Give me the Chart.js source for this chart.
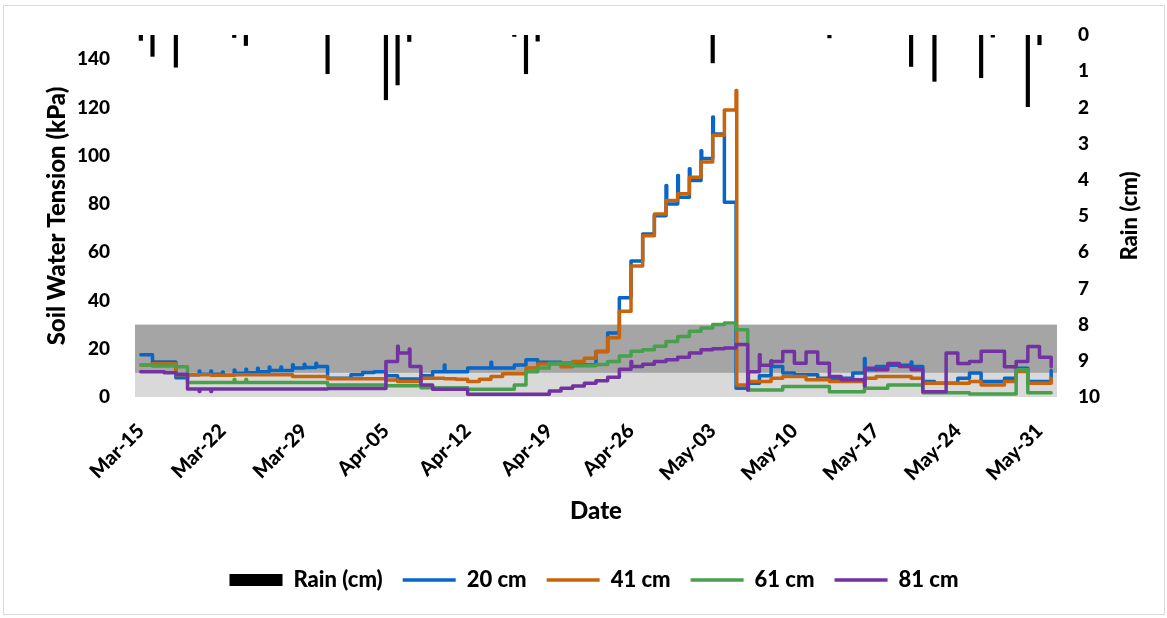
<!DOCTYPE html>
<html>
<head>
<meta charset="utf-8">
<title>Soil Water Tension and Rain</title>
<script src="https://cdn.jsdelivr.net/npm/chart.js@4.4.1/dist/chart.umd.min.js"></script>
<style>
  html, body { margin: 0; padding: 0; background: #ffffff; }
  canvas { display: block; }
</style>
</head>
<body>
<canvas id="chart" width="1167" height="618"></canvas>
<script>
// Date axis: day offsets counted from Mar-15
const tickDays = [0, 7, 14, 21, 28, 35, 42, 49, 56, 63, 70, 77];
const tickLabels = ['Mar-15', 'Mar-22', 'Mar-29', 'Apr-05', 'Apr-12', 'Apr-19',
                    'Apr-26', 'May-03', 'May-10', 'May-17', 'May-24', 'May-31'];

// Daily rainfall (cm)
const rainDays = [0, 1, 3, 8, 9, 16, 21, 22, 23, 32, 33, 34, 49, 59, 66, 68, 72, 73, 76, 77];
const rainCm   = [0.15, 0.59, 0.89, 0.07, 0.29, 1.07, 1.79, 1.38, 0.18, 0.04,
                  1.07, 0.17, 0.77, 0.08, 0.87, 1.28, 1.18, 0.06, 1.98, 0.27];

// Daily soil water tension (kPa), one reading per day from Mar-15
const tension20 = [17.5, 14.5, 14.5, 8.0, 9.2, 9.4, 9.4, 9.0, 9.8, 10.1,
                   10.5, 11.0, 11.0, 12.0, 12.2, 12.6, 7.8, 7.8, 9.2, 10.2,
                   10.5, 8.8, 7.5, 7.5, 8.8, 10.5, 10.5, 10.5, 12.0, 12.0,
                   12.0, 12.0, 13.3, 15.4, 14.4, 14.4, 14.0, 13.3, 13.3, 18.9,
                   26.5, 41.1, 56.4, 67.5, 75.1, 80.0, 82.8, 89.7, 98.8, 109.0,
                   80.7, 3.6, 5.7, 8.8, 12.6, 9.9, 9.2, 9.2, 7.8, 7.8,
                   7.8, 9.9, 11.3, 12.6, 13.2, 13.2, 12.6, 6.4, 5.7, 5.7,
                   7.8, 9.9, 6.4, 6.4, 7.8, 11.9, 6.4, 6.4, 11.0];

const tension41 = [13.3, 13.8, 13.8, 9.2, 9.2, 9.2, 9.0, 9.0, 9.2, 9.2,
                   9.2, 9.2, 9.2, 8.5, 8.5, 8.5, 7.6, 7.6, 7.6, 7.6,
                   7.6, 7.0, 6.4, 6.4, 7.8, 7.8, 7.6, 7.4, 6.4, 7.4,
                   8.5, 9.6, 9.6, 12.0, 13.7, 13.7, 12.5, 14.7, 16.1, 18.9,
                   24.6, 35.5, 54.3, 66.8, 75.8, 81.4, 84.2, 91.1, 97.4, 108.5,
                   118.9, 5.0, 6.4, 6.4, 7.8, 8.5, 8.5, 7.1, 7.1, 6.4,
                   6.4, 6.4, 7.8, 8.5, 8.5, 8.5, 7.8, 5.7, 5.7, 5.7,
                   5.7, 6.4, 5.0, 5.0, 6.4, 10.6, 5.7, 5.7, 7.8];

const tension61 = [13.3, 12.8, 12.8, 12.5, 6.0, 6.0, 6.0, 6.0, 6.0, 6.0,
                   6.0, 6.0, 6.0, 6.0, 6.0, 6.0, 5.0, 5.0, 5.0, 5.0,
                   5.0, 4.7, 4.7, 4.7, 3.8, 3.8, 3.8, 3.8, 3.2, 3.2,
                   3.2, 3.2, 5.0, 10.5, 12.0, 14.0, 14.0, 12.9, 13.0, 13.5,
                   14.7, 17.0, 19.0, 19.6, 21.0, 23.0, 25.1, 27.2, 28.6, 30.0,
                   30.7, 27.9, 2.9, 2.9, 2.9, 4.3, 4.3, 4.3, 4.3, 2.2,
                   2.2, 2.2, 3.6, 3.6, 5.0, 5.0, 5.0, 1.8, 1.8, 1.8,
                   1.8, 1.2, 1.2, 1.2, 1.2, 11.3, 1.8, 1.8, 1.8];

const tension81 = [10.5, 10.5, 10.1, 9.4, 3.3, 3.3, 3.3, 3.3, 3.3, 3.3,
                   3.3, 3.3, 3.3, 3.3, 3.3, 3.3, 3.5, 3.5, 3.5, 3.5,
                   3.5, 14.7, 18.2, 12.6, 5.0, 3.2, 3.2, 3.2, 1.1, 1.1,
                   1.1, 1.1, 1.1, 1.1, 1.1, 2.5, 3.6, 4.6, 5.7, 6.7,
                   8.2, 11.5, 12.6, 13.6, 14.7, 15.4, 16.5, 18.2, 19.6, 20.0,
                   20.3, 21.8, 10.5, 13.2, 14.7, 18.9, 14.0, 18.6, 14.0, 8.5,
                   7.1, 7.1, 11.9, 11.3, 13.9, 12.6, 11.3, 2.2, 2.2, 18.2,
                   13.9, 14.7, 19.0, 19.0, 12.5, 14.7, 20.9, 16.5, 12.5];

// Brief readings logged at the start of a day (kPa)
const spikeDays20 = [5, 6, 7, 8, 9, 10, 11, 12, 13, 14, 15, 26, 30,
                     45, 46, 47, 48, 49, 54, 62, 66];
const spikeKpa20  = [10.8, 10.8, 10.4, 11.2, 11.5, 11.9, 12.4, 12.4, 13.4, 13.6, 14.0, 13.3, 14.4,
                     87.6, 91.8, 94.6, 102.0, 116.0, 15.0, 16.0, 14.5];
const spikeDays41 = [51];
const spikeKpa41  = [127.0];
const spikeDays61 = [8, 9];
const spikeKpa61  = [7.2, 7.2];
const spikeDays81 = [5, 6, 22, 23, 42, 52, 53, 62];
const spikeKpa81  = [2.3, 2.3, 21.0, 19.9, 14.7, 2.9, 17.5, 4.6];

// Shaded tension ranges (kPa)
const bandLower = [0, 10];
const bandUpper = [10, 30];

// Each reading holds until the next one; spikes last a short moment
function readings(values, spikeDays, spikeKpa) {
  const pts = [];
  values.forEach((v, day) => {
    const k = spikeDays.indexOf(day);
    if (k >= 0) {
      pts.push({ x: day, y: spikeKpa[k] });
      pts.push({ x: day + 0.06, y: v });
    } else {
      pts.push({ x: day, y: v });
    }
  });
  return pts;
}

const FONT = 'Lato';
const WEIGHT = '900';
Chart.defaults.font.family = FONT;
Chart.defaults.font.weight = WEIGHT;
Chart.defaults.color = '#000000';

const framePlugin = {
  id: 'frame',
  beforeDraw(chart) {
    const ctx = chart.ctx;
    ctx.save();
    ctx.fillStyle = '#ffffff';
    ctx.fillRect(0, 0, chart.width, chart.height);
    ctx.strokeStyle = '#d9d9d9';
    ctx.lineWidth = 1;
    ctx.strokeRect(3.5, 5.5, chart.width - 6, chart.height - 9);
    ctx.restore();
  }
};

const bandPlugin = {
  id: 'bands',
  beforeDatasetsDraw(chart) {
    const { ctx, chartArea: a, scales: { y } } = chart;
    const p0 = y.getPixelForValue(bandLower[0]);
    const p1 = y.getPixelForValue(bandLower[1]);
    const p2 = y.getPixelForValue(bandUpper[1]);
    ctx.save();
    ctx.fillStyle = '#d9d9d9';
    ctx.fillRect(a.left, p1, a.right - a.left, p0 - p1);
    ctx.fillStyle = '#a5a5a5';
    ctx.fillRect(a.left, p2, a.right - a.left, p1 - p2);
    ctx.restore();
  }
};

// Right-hand axis title, reading bottom to top
const rainTitlePlugin = {
  id: 'rainTitle',
  afterDraw(chart) {
    const { ctx, chartArea: a } = chart;
    ctx.save();
    ctx.translate(1130, (a.top + a.bottom) / 2);
    ctx.rotate(-Math.PI / 2);
    ctx.font = WEIGHT + ' 22px ' + FONT;
    ctx.fillStyle = '#000000';
    ctx.textAlign = 'center';
    ctx.textBaseline = 'middle';
    ctx.fillText('Rain (cm)', 0, 0);
    ctx.restore();
  }
};

const lineStyle = {
  type: 'line',
  yAxisID: 'y',
  borderWidth: 3.5,
  stepped: true,
  pointRadius: 0,
  fill: false,
  borderJoinStyle: 'round',
  borderCapStyle: 'round'
};

const tickFont = { family: FONT, weight: WEIGHT, size: 19 };
const xTickFont = { family: FONT, weight: WEIGHT, size: 20 };
const titleFont = { family: FONT, weight: WEIGHT, size: 24 };

new Chart(document.getElementById('chart'), {
  type: 'line',
  data: {
    datasets: [
      {
        type: 'bar',
        label: 'Rain (cm)',
        data: rainDays.map((d, i) => ({ x: d, y: rainCm[i] })),
        yAxisID: 'yRain',
        backgroundColor: '#000000',
        barThickness: 3.5,
        order: 0
      },
      Object.assign({ label: '20 cm', data: readings(tension20, spikeDays20, spikeKpa20), borderColor: '#0866c6', order: 4 }, lineStyle),
      Object.assign({ label: '41 cm', data: readings(tension41, spikeDays41, spikeKpa41), borderColor: '#c8640c', order: 3 }, lineStyle),
      Object.assign({ label: '61 cm', data: readings(tension61, spikeDays61, spikeKpa61), borderColor: '#48a04c', order: 2 }, lineStyle),
      Object.assign({ label: '81 cm', data: readings(tension81, spikeDays81, spikeKpa81), borderColor: '#7232a2', order: 1 }, lineStyle)
    ]
  },
  options: {
    responsive: false,
    animation: false,
    devicePixelRatio: 1,
    events: [],
    layout: { padding: { left: 21, right: 0, top: 35, bottom: 17 } },
    plugins: {
      tooltip: { enabled: false },
      legend: {
        position: 'bottom',
        labels: {
          usePointStyle: true,
          pointStyleWidth: 53,
          boxHeight: 12,
          padding: 20,
          color: '#000000',
          font: { family: FONT, weight: WEIGHT, size: 22 },
          generateLabels(chart) {
            return chart.data.datasets.map((ds, i) => {
              const isBar = ds.type === 'bar';
              return {
                text: ds.label,
                fillStyle: isBar ? '#000000' : ds.borderColor,
                strokeStyle: isBar ? '#000000' : ds.borderColor,
                lineWidth: isBar ? 0 : 3.5,
                pointStyle: isBar ? 'rect' : 'line',
                fontColor: '#000000',
                hidden: false,
                datasetIndex: i
              };
            });
          }
        }
      }
    },
    scales: {
      x: {
        type: 'linear',
        min: -0.5,
        max: 78.5,
        offset: false,
        grid: { display: false },
        border: { display: false },
        afterBuildTicks(scale) { scale.ticks = tickDays.map(v => ({ value: v })); },
        afterFit(scale) { scale.height = 152; },
        ticks: {
          autoSkip: false,
          minRotation: 45,
          maxRotation: 45,
          padding: 14,
          color: '#000000',
          font: xTickFont,
          callback: (v) => { const i = tickDays.indexOf(v); return i >= 0 ? tickLabels[i] : ''; }
        },
        title: {
          display: true,
          text: 'Date',
          color: '#000000',
          font: titleFont,
          padding: { top: 0, bottom: 23 }
        }
      },
      y: {
        position: 'left',
        min: 0,
        max: 150,
        grid: { display: false },
        border: { display: false },
        afterFit(scale) { scale.width = 114; },
        ticks: { stepSize: 20, includeBounds: false, padding: 17, color: '#000000', font: tickFont },
        title: {
          display: true,
          text: 'Soil Water Tension (kPa)',
          color: '#000000',
          font: titleFont,
          padding: { top: 22, bottom: 0 }
        }
      },
      yRain: {
        position: 'right',
        min: 0,
        max: 10,
        reverse: true,
        grid: { display: false },
        border: { display: false },
        afterFit(scale) { scale.width = 110; },
        ticks: { stepSize: 1, padding: 13, color: '#000000', font: tickFont }
      }
    }
  },
  plugins: [framePlugin, bandPlugin, rainTitlePlugin]
});
</script>
</body>
</html>
